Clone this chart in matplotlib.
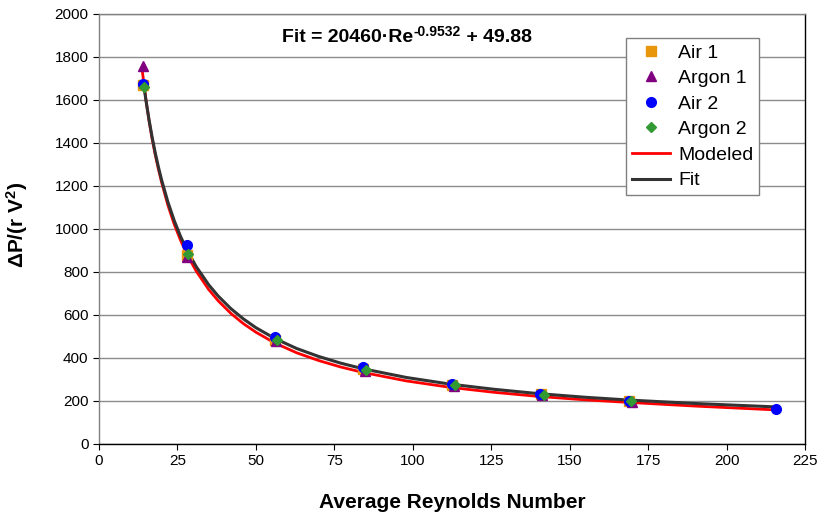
import matplotlib
matplotlib.use("Agg")
import matplotlib.pyplot as plt

plt.rcParams["font.family"] = ["Liberation Sans", "DejaVu Sans"]
plt.rcParams["mathtext.default"] = "regular"

# measured points (Reynolds number, dP/(rho V^2))
air1_re = [14.2, 28.0, 56.0, 84.3, 112.5, 140.8, 169.0]
air1_dp = [1670, 880, 482, 350, 275, 230, 198]

argon1_re = [14.2, 28.2, 56.3, 84.8, 113.0, 141.2, 169.8]
argon1_dp = [1758, 870, 478, 340, 270, 226, 195]

air2_re = [14.1, 28.1, 56.0, 84.3, 112.4, 140.7, 168.8, 215.7]
air2_dp = [1672, 925, 497, 357, 279, 232, 200, 163]

argon2_re = [14.5, 28.5, 56.6, 85.2, 113.4, 141.8, 169.5]
argon2_dp = [1660, 885, 483, 345, 272, 229, 198]

# curves
model_re = [13.9, 15, 16, 17, 18, 19, 20, 22, 24, 26, 28, 31, 35, 38, 42, 46,
            50, 56, 63, 70, 77, 84, 98, 112, 126, 140, 155, 169, 190, 216]
model_dp = [1728, 1600, 1502, 1416, 1342, 1276, 1216, 1110, 1022, 948, 884,
            804, 718, 666, 608, 560, 520, 470, 424, 388, 358, 333, 293, 263,
            240, 221, 205, 193, 176, 158]

fit_re = [14.3, 15, 16, 17, 18, 19, 20, 22, 24, 26, 28, 31, 35, 38, 42, 46,
          50, 56, 63, 70, 77, 84, 98, 112, 126, 140, 155, 169, 190, 216]
fit_dp = [1670, 1598, 1506, 1424, 1351, 1286, 1227, 1125, 1039, 966, 904,
          825, 740, 688, 630, 582, 541, 491, 444, 407, 376, 350, 309, 278,
          254, 234, 217, 204, 188, 172]

fig = plt.figure(figsize=(8.24, 5.18), dpi=100)
ax = fig.add_axes([0.120, 0.143, 0.857, 0.830])

ax.plot(model_re, model_dp, color="#ff0000", lw=2.0, label="Modeled", zorder=3)
ax.plot(fit_re, fit_dp, color="#333333", lw=2.2, label="Fit", zorder=3)

ax.plot(air1_re, air1_dp, ls="none", marker="s", ms=6.5, color="#e8960c",
        label="Air 1", zorder=4)
ax.plot(argon1_re, argon1_dp, ls="none", marker="^", ms=7, color="#800080",
        label="Argon 1", zorder=4)
ax.plot(air2_re, air2_dp, ls="none", marker="o", ms=7, color="#0000ff",
        label="Air 2", zorder=5)
ax.plot(argon2_re, argon2_dp, ls="none", marker="D", ms=5.5, color="#339933",
        label="Argon 2", zorder=6)

ax.set_xlim(0, 225)
ax.set_ylim(0, 2000)
ax.set_xticks(range(0, 226, 25))
ax.set_yticks(range(0, 2001, 200))
ax.tick_params(labelsize=11, length=4, color="#000000")
ax.yaxis.grid(True, color="#8c8c8c", lw=1.0)
ax.set_axisbelow(True)

ax.spines["left"].set_color("#808080")
ax.spines["top"].set_color("#808080")
ax.spines["right"].set_color("#000000")
ax.spines["bottom"].set_color("#000000")
for s in ax.spines.values():
    s.set_linewidth(1.0)

ax.set_xlabel("Average Reynolds Number", fontsize=15, fontweight="bold", labelpad=18)
ax.set_ylabel(r"$\Delta$P/(r V$^{2}$)", fontsize=15, fontweight="bold")
ax.yaxis.set_label_coords(-0.098, 0.51)

# fit equation, built from pieces so the exponent keeps a plain hyphen
t1 = ax.text(0.260, 0.936, "Fit = 20460·Re", transform=ax.transAxes,
             ha="left", va="baseline", fontsize=14, fontweight="bold")
t2 = ax.annotate("-0.9532", xy=(1, 0.55), xycoords=t1, ha="left",
                 va="baseline", fontsize=10, fontweight="bold")
ax.annotate(" + 49.88", xy=(1, 0), xycoords=(t2, t1), ha="left",
            va="bottom", fontsize=14, fontweight="bold")

handles, labels = ax.get_legend_handles_labels()
order = ["Air 1", "Argon 1", "Air 2", "Argon 2", "Modeled", "Fit"]
hmap = dict(zip(labels, handles))
leg = ax.legend([hmap[k] for k in order], order, loc="upper left",
                bbox_to_anchor=(0.746, 0.944), fontsize=14, frameon=True,
                fancybox=False, edgecolor="#808080", framealpha=1,
                handlelength=2.0, labelspacing=0.41, borderpad=0.3,
                handletextpad=0.4, borderaxespad=0)
leg.get_frame().set_linewidth(1.0)

fig.savefig("out.png", dpi=100)
